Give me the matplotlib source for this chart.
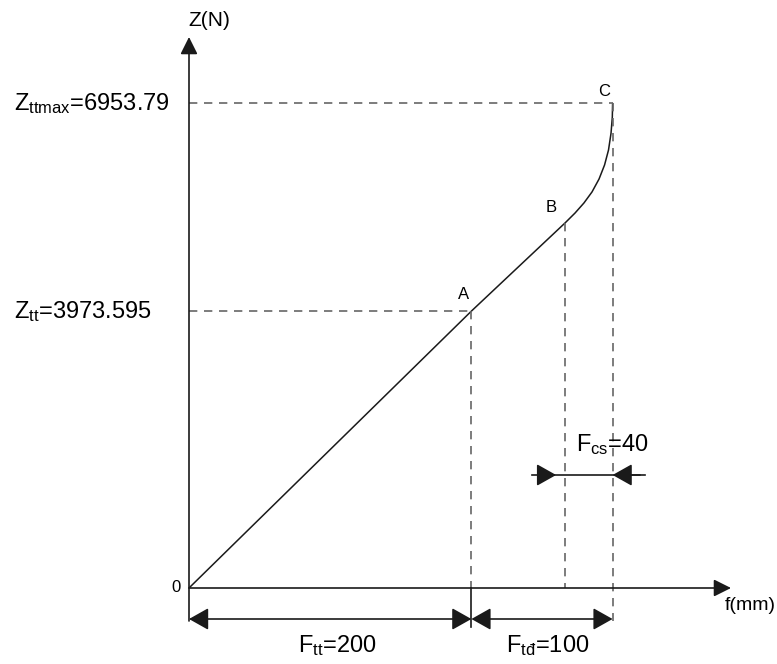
import numpy as np
import matplotlib
matplotlib.use("Agg")
import matplotlib.pyplot as plt

plt.rcParams['font.family'] = ['Liberation Sans', 'DejaVu Sans']
plt.rcParams['mathtext.fontset'] = 'custom'
plt.rcParams['mathtext.rm'] = 'Liberation Sans'
plt.rcParams['mathtext.it'] = 'Liberation Sans'

## Data
f_pts = [0, 200, 266.3, 273.4, 279.7, 285.4, 290.4, 294.3, 297.1, 298.9, 299.8, 300]  # f (mm)
Z_pts = [0, 3973.595, 5238, 5381, 5525, 5683, 5869, 6070, 6285, 6529, 6759, 6953.79]  # Z (N)
point_names = ["A", "B", "C"]
point_idx = [1, 2, 11]
F_tt = 200
F_td = 100
F_cs = 40
Z_tt = 3973.595
Z_ttmax = 6953.79

## Pixel to data scale (axes cover whole figure)
sx = 1.412  # px per mm
sy = 1 / 14.35  # px per N
x0, y0 = 189, 588  # origin in pixels (from top)
W, H = 777, 664

def px(x):
    return (x - x0) / sx

def py(y):
    return (y0 - y) / sy

fig = plt.figure(figsize=(W / 100, H / 100), dpi=100)
ax = fig.add_axes([0, 0, 1, 1])
ax.set_xlim(px(0), px(W))
ax.set_ylim(py(H), py(0))
ax.axis("off")

dark = "#1a1a1a"
gray = "#666666"
dash = dict(color=gray, lw=1.2, dashes=(5, 4))

# axes with arrows
ax.annotate("", xy=(0, py(37)), xytext=(0, py(621)),
            arrowprops=dict(arrowstyle="-|>,head_length=0.7,head_width=0.35",
                            mutation_scale=15, color=dark, lw=1.2, shrinkA=0, shrinkB=0))
ax.annotate("", xy=(px(731), 0), xytext=(0, 0),
            arrowprops=dict(arrowstyle="-|>,head_length=0.7,head_width=0.35",
                            mutation_scale=15, color=dark, lw=1.2, shrinkA=0, shrinkB=0))

# curve
ax.plot(f_pts, Z_pts, color=dark, lw=1.1, solid_capstyle="round", solid_joinstyle="round")

fA, ZA = f_pts[1], Z_pts[1]
fB, ZB = f_pts[2], Z_pts[2]
fC, ZC = f_pts[-1], Z_pts[-1]

# dashed guide lines
ax.plot([0, fA], [Z_tt, Z_tt], **dash)
ax.plot([0, fC], [Z_ttmax, Z_ttmax], **dash)
ax.plot([fA, fA], [ZA, 0], **dash)
ax.plot([fB, fB], [ZB, 0], **dash)
ax.plot([fC, fC], [ZC, py(621)], **dash)

# dimension extension line at A
ax.plot([fA, fA], [0, py(627)], color=dark, lw=1.2)

# dimension arrows below x axis
yd = py(619)
dim_style = dict(arrowstyle="<|-|>,head_length=0.8,head_width=0.45",
                 mutation_scale=15, color=dark, lw=1.2, shrinkA=0, shrinkB=0)
ax.annotate("", xy=(0, yd), xytext=(F_tt, yd), arrowprops=dim_style)
ax.annotate("", xy=(F_tt, yd), xytext=(F_tt + F_td, yd), arrowprops=dim_style)

# F_cs arrows (pointing inward)
yc = py(475)
ax.plot([px(532), px(645)], [yc, yc], color=dark, lw=1.2)
in_style = dict(arrowstyle="-|>,head_length=0.8,head_width=0.45",
                mutation_scale=15, color=dark, lw=1.2, shrinkA=0, shrinkB=0)
ax.annotate("", xy=(fC - F_cs, yc), xytext=(px(540), yc), arrowprops=in_style)
ax.annotate("", xy=(fC, yc), xytext=(px(640), yc), arrowprops=in_style)

# labels
big = 17
ax.text(px(14), Z_ttmax, r"Z$_{\mathrm{ttmax}}$=6953.79", fontsize=big,
        ha="left", va="center")
ax.text(px(14), Z_tt, r"Z$_{\mathrm{tt}}$=3973.595", fontsize=big,
        ha="left", va="center")
ax.text(px(188), py(20), "Z(N)", fontsize=15, ha="left", va="center")
ax.text(px(750), py(606), "f(mm)", fontsize=14, ha="center", va="center")
ax.text(px(176), 0, "0", fontsize=12, ha="center", va="center")
ax.text(F_tt / 2 + 5, py(646), r"F$_{\mathrm{tt}}$=200", fontsize=big,
        ha="center", va="center")
ax.text(F_tt + F_td / 2 + 4, py(646), r"F$_{\mathrm{tđ}}$=100", fontsize=big,
        ha="center", va="center")
ax.text(px(612), py(445), r"F$_{\mathrm{cs}}$=40", fontsize=big,
        ha="center", va="center")

label_off = [(-8, 17), (-14, 15), (-8, 12)]
for name, i, (dx, dy) in zip(point_names, point_idx, label_off):
    ax.text(f_pts[i] + dx / sx, Z_pts[i] + dy / sy, name, fontsize=12,
            ha="center", va="center")

fig.savefig("out.png", dpi=100)
